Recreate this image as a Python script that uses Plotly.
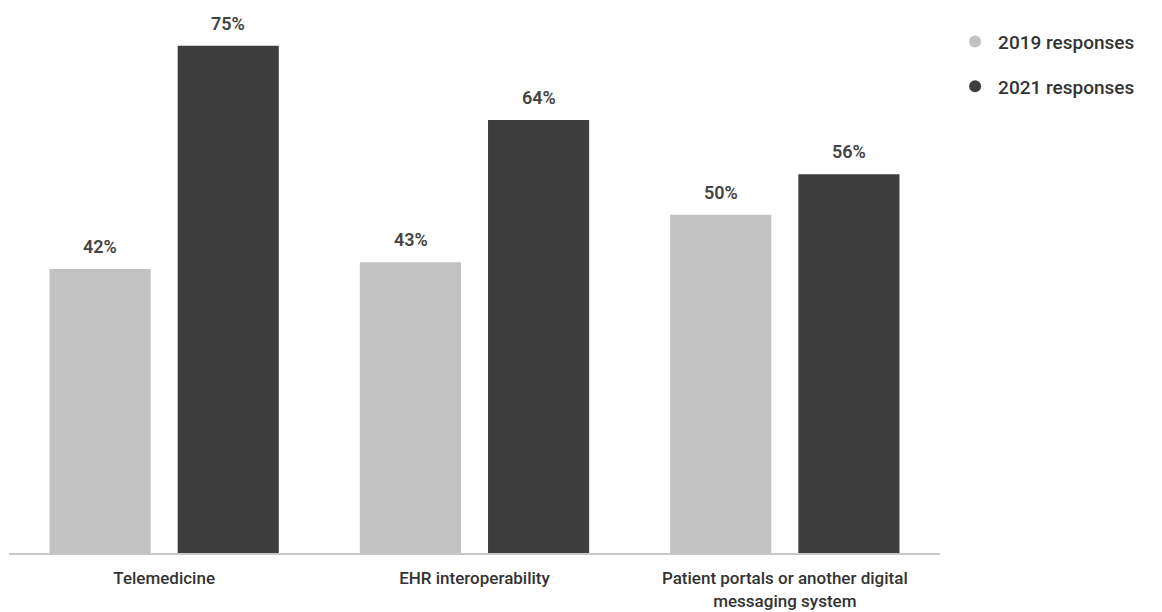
import plotly.graph_objects as go

categories = ["Telemedicine", "EHR interoperability", "Patient portals or another digital<br>messaging system"]
series_names = ["2019 responses", "2021 responses"]
values_2019 = [42, 43, 50]
values_2021 = [75, 64, 56]
colors = ["#c2c2c2", "#3e3e3e"]

fig = go.Figure()
for name, vals, col in zip(series_names, [values_2019, values_2021], colors):
    fig.add_trace(go.Bar(x=categories, y=vals, name=name, marker_color=col,
                         marker_line_width=0, showlegend=False))

# legend entries with circle markers
for i, (name, col) in enumerate(zip(series_names, colors)):
    fig.add_trace(go.Scatter(x=[None], y=[None], mode="markers", name=name,
                             marker=dict(symbol="circle", size=15, color=col),
                             legendgroup=f"g{i}", showlegend=True))

# value labels above bars
for vals, shift in [(values_2019, -64), (values_2021, 64)]:
    for c, v in zip(categories, vals):
        fig.add_annotation(x=c, y=v, text=f"{v}%", showarrow=False, xshift=shift,
                           yanchor="bottom", yshift=10,
                           font=dict(family="Roboto", size=18, color="#444444", weight=600))

fig.update_layout(
    width=1154, height=604,
    margin=dict(l=1, r=222, t=12, b=59),
    paper_bgcolor="white", plot_bgcolor="white",
    barmode="group", bargap=0.174, bargroupgap=0.211,
    font=dict(family="Roboto", size=17, color="#333333"),
    legend=dict(x=1.013, y=0.995, xanchor="left", yanchor="top",
                font=dict(family="Roboto", size=19, color="#333333", weight=500),
                tracegroupgap=17, itemwidth=36, itemsizing="constant",
                bgcolor="rgba(0,0,0,0)"),
    xaxis=dict(showline=True, linecolor="#c8c8c8", linewidth=2, ticks="",
               tickfont=dict(family="Roboto", size=17, color="#333333", weight=500),
               ticklabelstandoff=9, automargin=False,
               showgrid=False, fixedrange=True),
    yaxis=dict(range=[0, 78.8], visible=False, showgrid=False, zeroline=False),
)

fig.write_html("out.html")
